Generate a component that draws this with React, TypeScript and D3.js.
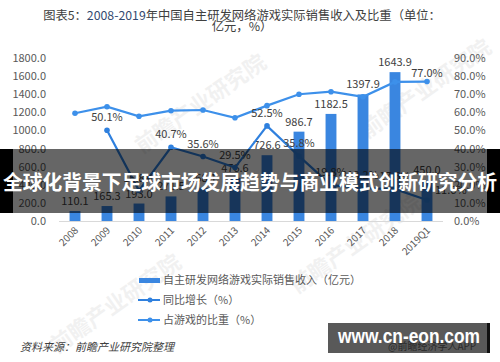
import React from 'react';
import * as d3 from 'd3';

const years = ['2008', '2009', '2010', '2011', '2012', '2013', '2014', '2015', '2016', '2017', '2018', '2019Q1'];
const revenue = [110.1, 165.3, 193.0, 271.5, 368.1, 476.6, 726.6, 986.7, 1182.5, 1397.9, 1643.9, 450.0];
const growth = [null, 50.1, 16.8, 40.7, 35.6, 29.5, 52.5, 35.8, 19.8, 18.2, 17.6, 11.6];
const share = [59.5, 63.1, 57.8, 60.9, 61.3, 57.0, 63.7, 70.0, 71.4, 68.6, 76.8, 77.0];
const leftTicks = [0, 200, 400, 600, 800, 1000, 1200, 1400, 1600, 1800];
const rightTicks = [0, 10, 20, 30, 40, 50, 60, 70, 80, 90];

const FONT = '"Noto Sans CJK SC", "Noto Sans", sans-serif';
const BAR = '#3a86e0';
const GROWTH = '#2f80de';
const SHARE = '#3d90ea';
const TXT = '#595959';

const App = () => {
  const x = d3.scaleBand<string>()
    .domain(years)
    .range([59, 443])
    .paddingInner(0.66)
    .paddingOuter(0.33);
  const yL = d3.scaleLinear().domain([0, 1800]).range([221, 58]);
  const yR = d3.scaleLinear().domain([0, 90]).range([221, 58]);
  const cx = (d: string) => (x(d) as number) + x.bandwidth() / 2;

  const growthPts = years
    .map((y, i) => ({ y, v: growth[i] }))
    .filter(d => d.v !== null) as { y: string; v: number }[];
  const sharePts = years.map((y, i) => ({ y, v: share[i] }));

  const line = d3.line<{ y: string; v: number }>()
    .x(d => cx(d.y))
    .y(d => yR(d.v));

  const watermarks = [
    { x: 205, y: 110 }, { x: 430, y: 95 }, { x: 360, y: 250 }, { x: 120, y: 310 },
  ];

  return (
    <svg width={500} height={362} style={{ position: 'absolute', left: 0, top: 0, background: '#fff' }} fontFamily={FONT}>
      <rect width={500} height={362} fill="#fff" />

      {/* title */}
      <text x={242} y={20} textAnchor="middle" fontSize={12.3} fill="#404040">
        图表5：<tspan fill="#34496f">2008-2019</tspan>年中国自主研发网络游戏实际销售收入及比重（单位：
      </text>
      <text x={242} y={31} textAnchor="middle" fontSize={12.3} fill="#404040">亿元，%）</text>

      {/* faint watermarks */}
      {watermarks.map((w, i) => (
        <text key={i} x={w.x} y={w.y} transform={`rotate(-35 ${w.x} ${w.y})`} textAnchor="middle"
          fontSize={22} fontWeight="bold" fill="#000" opacity={0.05}>前瞻产业研究院</text>
      ))}

      {/* left axis labels */}
      {leftTicks.map(t => (
        <text key={t} x={46} y={yL(t) + 4} textAnchor="end" fontSize={11} fill={TXT}>{t.toFixed(1)}</text>
      ))}
      {/* right axis labels */}
      {rightTicks.map(t => (
        <text key={t} x={454} y={yR(t) + 4} textAnchor="start" fontSize={11} fill={TXT}>{t.toFixed(1)}%</text>
      ))}

      {/* bars */}
      {years.map((y, i) => (
        <rect key={y} x={x(y)} y={yL(revenue[i])} width={x.bandwidth()} height={yL(0) - yL(revenue[i])} fill={BAR} />
      ))}
      <line x1={59} x2={443} y1={221.5} y2={221.5} stroke="#d9d9d9" strokeWidth={1} />

      {/* bar labels */}
      {years.map((y, i) => (
        <text key={y} x={cx(y)} y={yL(revenue[i]) - 6} textAnchor="middle" fontSize={11} fill="#404040">
          {revenue[i].toFixed(1)}
        </text>
      ))}

      {/* lines */}
      <path d={line(growthPts) || ''} fill="none" stroke={GROWTH} strokeWidth={2.2} />
      {growthPts.map(d => (
        <circle key={d.y} cx={cx(d.y)} cy={yR(d.v)} r={2.8} fill={GROWTH} />
      ))}
      <path d={line(sharePts) || ''} fill="none" stroke={SHARE} strokeWidth={2.2} />
      {sharePts.map(d => (
        <circle key={d.y} cx={cx(d.y)} cy={yR(d.v)} r={2.8} fill={SHARE} />
      ))}

      {/* line labels */}
      {growthPts.map((d, i) => {
        const last = i === growthPts.length - 1;
        return (
          <text key={d.y} x={last ? cx(d.y) + 8 : cx(d.y)} y={last ? yR(d.v) - 6 : yR(d.v) - 9}
            textAnchor={last ? 'start' : 'middle'} fontSize={11} fill="#404040">{d.v.toFixed(1)}%</text>
        );
      })}
      <text x={cx(years[11])} y={yR(share[11]) - 5} textAnchor="middle" fontSize={11} fill="#404040">
        {share[11].toFixed(1)}%
      </text>

      {/* x labels */}
      {years.map(y => (
        <text key={y} x={cx(y) + 4} y={231} transform={`rotate(-45 ${cx(y) + 4} 231)`}
          textAnchor="end" fontSize={10} fill={TXT}>{y}</text>
      ))}

      {/* legend */}
      <rect x={139} y={278} width={21} height={5} fill={BAR} />
      <text x={163} y={284} fontSize={11} fill={TXT}>自主研发网络游戏实际销售收入（亿元）</text>
      <line x1={138} x2={160} y1={300} y2={300} stroke={GROWTH} strokeWidth={2} />
      <circle cx={150} cy={300} r={2.5} fill={GROWTH} />
      <text x={163} y={304} fontSize={11} fill={TXT}>同比增长（%）</text>
      <line x1={138} x2={160} y1={320} y2={320} stroke={SHARE} strokeWidth={2} />
      <circle cx={150} cy={320} r={2.5} fill={SHARE} />
      <text x={163} y={324} fontSize={11} fill={TXT}>占游戏的比重（%）</text>

      {/* source */}
      <text x={20} y={351} fontSize={11} fontStyle="italic" fill="#404040">资料来源：前瞻产业研究院整理</text>

      {/* overlay banner */}
      <rect x={0} y={149} width={500} height={64} fill="#000" opacity={0.6} />
      <rect x={0} y={149} width={13} height={64} fill="#000" />
      <rect x={487} y={149} width={13} height={64} fill="#000" />
      <text x={250} y={190} textAnchor="middle" fontSize={20} fontWeight="bold" fill="#fff"
        textLength={494} lengthAdjust="spacingAndGlyphs">全球化背景下足球市场发展趋势与商业模式创新研究分析</text>

      {/* site box */}
      <rect x={328} y={323} width={159} height={30} fill="#595959" />
      <rect x={487} y={323} width={3} height={30} fill="#111" />
      <text x={388} y={350} fontSize={10} fill="#2a2a2a">@前瞻经济学人APP</text>
      <text x={338} y={343} fontSize={21} fontWeight="bold" fill="#fff" fontFamily='"Liberation Sans", Arial, sans-serif'
        textLength={142} lengthAdjust="spacingAndGlyphs">www.cn-eon.com</text>
    </svg>
  );
};

export default App;
